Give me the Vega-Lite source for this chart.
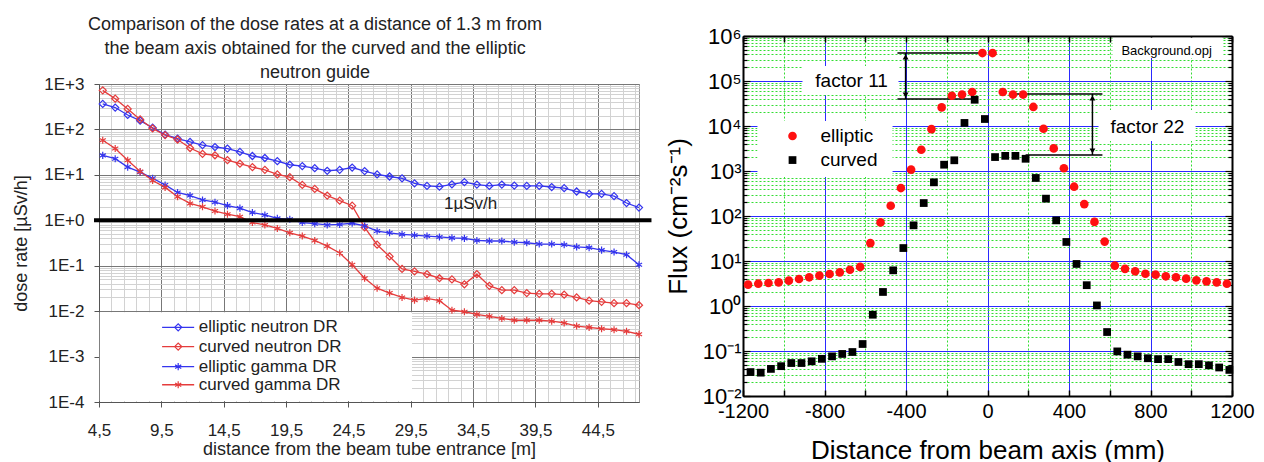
{
  "$schema": "https://vega.github.io/schema/vega-lite/v6.json",
  "background": "white",
  "padding": {"left": 12, "top": 16, "right": 2, "bottom": 0},
  "spacing": 11,
  "config": {"font": "Liberation Sans", "view": {"stroke": null}},
  "datasets": {
    "left": [
      {"s":"en","d":4.8,"v":365},{"s":"en","d":5.8,"v":303},{"s":"en","d":6.8,"v":208},{"s":"en","d":7.8,"v":156},{"s":"en","d":8.8,"v":109},{"s":"en","d":9.8,"v":77},{"s":"en","d":10.8,"v":63},{"s":"en","d":11.8,"v":53},{"s":"en","d":12.8,"v":45},{"s":"en","d":13.8,"v":41},{"s":"en","d":14.8,"v":38},{"s":"en","d":15.8,"v":32},{"s":"en","d":16.8,"v":26},{"s":"en","d":17.8,"v":23.5},{"s":"en","d":18.8,"v":20},{"s":"en","d":19.8,"v":16.7},{"s":"en","d":20.8,"v":15.6},{"s":"en","d":21.8,"v":14},{"s":"en","d":22.8,"v":12.3},{"s":"en","d":23.8,"v":12.9},{"s":"en","d":24.8,"v":14.5},{"s":"en","d":25.8,"v":12.1},{"s":"en","d":26.8,"v":10.2},{"s":"en","d":27.8,"v":9.2},{"s":"en","d":28.8,"v":8.4},{"s":"en","d":29.8,"v":6.5},{"s":"en","d":30.8,"v":5.7},{"s":"en","d":31.8,"v":5.5},{"s":"en","d":32.8,"v":6.2},{"s":"en","d":33.8,"v":6.9},{"s":"en","d":34.8,"v":6.1},{"s":"en","d":35.8,"v":5.7},{"s":"en","d":36.8,"v":6.1},{"s":"en","d":37.8,"v":5.8},{"s":"en","d":38.8,"v":5.7},{"s":"en","d":39.8,"v":5.7},{"s":"en","d":40.8,"v":5.4},{"s":"en","d":41.8,"v":5.1},{"s":"en","d":42.8,"v":4.3},{"s":"en","d":43.8,"v":3.8},{"s":"en","d":44.8,"v":3.8},{"s":"en","d":45.8,"v":3.4},{"s":"en","d":46.8,"v":2.4},{"s":"en","d":47.8,"v":1.9},
      {"s":"cn","d":4.8,"v":724},{"s":"cn","d":5.8,"v":474},{"s":"cn","d":6.8,"v":283},{"s":"cn","d":7.8,"v":166},{"s":"cn","d":8.8,"v":105},{"s":"cn","d":9.8,"v":75},{"s":"cn","d":10.8,"v":60},{"s":"cn","d":11.8,"v":39},{"s":"cn","d":12.8,"v":29},{"s":"cn","d":13.8,"v":27},{"s":"cn","d":14.8,"v":21},{"s":"cn","d":15.8,"v":17.6},{"s":"cn","d":16.8,"v":14.8},{"s":"cn","d":17.8,"v":12.9},{"s":"cn","d":18.8,"v":10.2},{"s":"cn","d":19.8,"v":8.9},{"s":"cn","d":20.8,"v":6.0},{"s":"cn","d":21.8,"v":4.9},{"s":"cn","d":22.8,"v":3.5},{"s":"cn","d":23.8,"v":2.7},{"s":"cn","d":24.8,"v":2.1},{"s":"cn","d":25.8,"v":0.7},{"s":"cn","d":26.8,"v":0.29},{"s":"cn","d":27.8,"v":0.16},{"s":"cn","d":28.8,"v":0.085},{"s":"cn","d":29.8,"v":0.075},{"s":"cn","d":30.8,"v":0.065},{"s":"cn","d":31.8,"v":0.053},{"s":"cn","d":32.8,"v":0.05},{"s":"cn","d":33.8,"v":0.039},{"s":"cn","d":34.8,"v":0.065},{"s":"cn","d":35.8,"v":0.036},{"s":"cn","d":36.8,"v":0.029},{"s":"cn","d":37.8,"v":0.029},{"s":"cn","d":38.8,"v":0.025},{"s":"cn","d":39.8,"v":0.024},{"s":"cn","d":40.8,"v":0.024},{"s":"cn","d":41.8,"v":0.023},{"s":"cn","d":42.8,"v":0.02},{"s":"cn","d":43.8,"v":0.017},{"s":"cn","d":44.8,"v":0.016},{"s":"cn","d":45.8,"v":0.015},{"s":"cn","d":46.8,"v":0.015},{"s":"cn","d":47.8,"v":0.0135},
      {"s":"eg","d":4.8,"v":26.8},{"s":"eg","d":5.8,"v":22.7},{"s":"eg","d":6.8,"v":14.8},{"s":"eg","d":7.8,"v":11.5},{"s":"eg","d":8.8,"v":8.4},{"s":"eg","d":9.8,"v":6.0},{"s":"eg","d":10.8,"v":4.1},{"s":"eg","d":11.8,"v":3.5},{"s":"eg","d":12.8,"v":2.8},{"s":"eg","d":13.8,"v":2.5},{"s":"eg","d":14.8,"v":2.1},{"s":"eg","d":15.8,"v":1.85},{"s":"eg","d":16.8,"v":1.48},{"s":"eg","d":17.8,"v":1.31},{"s":"eg","d":18.8,"v":1.1},{"s":"eg","d":19.8,"v":1.05},{"s":"eg","d":20.8,"v":0.89},{"s":"eg","d":21.8,"v":0.84},{"s":"eg","d":22.8,"v":0.79},{"s":"eg","d":23.8,"v":0.81},{"s":"eg","d":24.8,"v":0.86},{"s":"eg","d":25.8,"v":0.75},{"s":"eg","d":26.8,"v":0.58},{"s":"eg","d":27.8,"v":0.53},{"s":"eg","d":28.8,"v":0.49},{"s":"eg","d":29.8,"v":0.47},{"s":"eg","d":30.8,"v":0.45},{"s":"eg","d":31.8,"v":0.43},{"s":"eg","d":32.8,"v":0.41},{"s":"eg","d":33.8,"v":0.4},{"s":"eg","d":34.8,"v":0.36},{"s":"eg","d":35.8,"v":0.35},{"s":"eg","d":36.8,"v":0.35},{"s":"eg","d":37.8,"v":0.33},{"s":"eg","d":38.8,"v":0.32},{"s":"eg","d":39.8,"v":0.3},{"s":"eg","d":40.8,"v":0.3},{"s":"eg","d":41.8,"v":0.29},{"s":"eg","d":42.8,"v":0.26},{"s":"eg","d":43.8,"v":0.25},{"s":"eg","d":44.8,"v":0.22},{"s":"eg","d":45.8,"v":0.2},{"s":"eg","d":46.8,"v":0.175},{"s":"eg","d":47.8,"v":0.105},
      {"s":"cg","d":4.8,"v":58},{"s":"cg","d":5.8,"v":38},{"s":"cg","d":6.8,"v":21},{"s":"cg","d":7.8,"v":11.8},{"s":"cg","d":8.8,"v":7.5},{"s":"cg","d":9.8,"v":5.3},{"s":"cg","d":10.8,"v":3.3},{"s":"cg","d":11.8,"v":2.35},{"s":"cg","d":12.8,"v":1.98},{"s":"cg","d":13.8,"v":1.6},{"s":"cg","d":14.8,"v":1.36},{"s":"cg","d":15.8,"v":1.2},{"s":"cg","d":16.8,"v":0.89},{"s":"cg","d":17.8,"v":0.79},{"s":"cg","d":18.8,"v":0.66},{"s":"cg","d":19.8,"v":0.53},{"s":"cg","d":20.8,"v":0.45},{"s":"cg","d":21.8,"v":0.36},{"s":"cg","d":22.8,"v":0.27},{"s":"cg","d":23.8,"v":0.19},{"s":"cg","d":24.8,"v":0.105},{"s":"cg","d":25.8,"v":0.053},{"s":"cg","d":26.8,"v":0.032},{"s":"cg","d":27.8,"v":0.025},{"s":"cg","d":28.8,"v":0.02},{"s":"cg","d":29.8,"v":0.0175},{"s":"cg","d":30.8,"v":0.019},{"s":"cg","d":31.8,"v":0.017},{"s":"cg","d":32.8,"v":0.0105},{"s":"cg","d":33.8,"v":0.0097},{"s":"cg","d":34.8,"v":0.0085},{"s":"cg","d":35.8,"v":0.0077},{"s":"cg","d":36.8,"v":0.0069},{"s":"cg","d":37.8,"v":0.0063},{"s":"cg","d":38.8,"v":0.0063},{"s":"cg","d":39.8,"v":0.0063},{"s":"cg","d":40.8,"v":0.006},{"s":"cg","d":41.8,"v":0.0055},{"s":"cg","d":42.8,"v":0.0047},{"s":"cg","d":43.8,"v":0.0044},{"s":"cg","d":44.8,"v":0.0041},{"s":"cg","d":45.8,"v":0.0039},{"s":"cg","d":46.8,"v":0.0036},{"s":"cg","d":47.8,"v":0.0031}
    ],
    "right": [
      {"s":"elliptic","d":-1175,"v":2.98},{"s":"elliptic","d":-1125,"v":3.13},{"s":"elliptic","d":-1075,"v":3.24},{"s":"elliptic","d":-1025,"v":3.36},{"s":"elliptic","d":-975,"v":3.66},{"s":"elliptic","d":-925,"v":3.98},{"s":"elliptic","d":-875,"v":4.34},{"s":"elliptic","d":-825,"v":4.72},{"s":"elliptic","d":-775,"v":5.14},{"s":"elliptic","d":-725,"v":5.6},{"s":"elliptic","d":-675,"v":6.4},{"s":"elliptic","d":-625,"v":7.4},{"s":"elliptic","d":-575,"v":25},{"s":"elliptic","d":-525,"v":72},{"s":"elliptic","d":-475,"v":169},{"s":"elliptic","d":-425,"v":418},{"s":"elliptic","d":-375,"v":1070},{"s":"elliptic","d":-325,"v":2960},{"s":"elliptic","d":-275,"v":8530},{"s":"elliptic","d":-225,"v":25900},{"s":"elliptic","d":-175,"v":47000},{"s":"elliptic","d":-125,"v":50000},{"s":"elliptic","d":-75,"v":57000},{"s":"elliptic","d":-25,"v":418000},{"s":"elliptic","d":25,"v":418000},{"s":"elliptic","d":75,"v":57000},{"s":"elliptic","d":125,"v":50000},{"s":"elliptic","d":175,"v":50000},{"s":"elliptic","d":225,"v":26500},{"s":"elliptic","d":275,"v":8700},{"s":"elliptic","d":325,"v":3180},{"s":"elliptic","d":375,"v":1150},{"s":"elliptic","d":425,"v":448},{"s":"elliptic","d":475,"v":184},{"s":"elliptic","d":525,"v":74},{"s":"elliptic","d":575,"v":27},{"s":"elliptic","d":625,"v":7.9},{"s":"elliptic","d":675,"v":6.7},{"s":"elliptic","d":725,"v":5.9},{"s":"elliptic","d":775,"v":5.2},{"s":"elliptic","d":825,"v":4.97},{"s":"elliptic","d":875,"v":4.57},{"s":"elliptic","d":925,"v":4.34},{"s":"elliptic","d":975,"v":4.05},{"s":"elliptic","d":1025,"v":3.72},{"s":"elliptic","d":1075,"v":3.53},{"s":"elliptic","d":1125,"v":3.36},{"s":"elliptic","d":1175,"v":3.13},
      {"s":"curved","d":-1163,"v":0.034},{"s":"curved","d":-1113,"v":0.033},{"s":"curved","d":-1063,"v":0.04},{"s":"curved","d":-1013,"v":0.046},{"s":"curved","d":-963,"v":0.054},{"s":"curved","d":-913,"v":0.054},{"s":"curved","d":-863,"v":0.059},{"s":"curved","d":-813,"v":0.067},{"s":"curved","d":-763,"v":0.076},{"s":"curved","d":-713,"v":0.086},{"s":"curved","d":-663,"v":0.095},{"s":"curved","d":-613,"v":0.143},{"s":"curved","d":-563,"v":0.64},{"s":"curved","d":-513,"v":2.05},{"s":"curved","d":-463,"v":6.2},{"s":"curved","d":-413,"v":19.4},{"s":"curved","d":-363,"v":62},{"s":"curved","d":-313,"v":194},{"s":"curved","d":-263,"v":560},{"s":"curved","d":-213,"v":1380},{"s":"curved","d":-163,"v":1730},{"s":"curved","d":-113,"v":11700},{"s":"curved","d":-63,"v":38300},{"s":"curved","d":-13,"v":14300},{"s":"curved","d":37,"v":2040},{"s":"curved","d":87,"v":2170},{"s":"curved","d":137,"v":2170},{"s":"curved","d":187,"v":1870},{"s":"curved","d":237,"v":700},{"s":"curved","d":287,"v":243},{"s":"curved","d":337,"v":80},{"s":"curved","d":387,"v":26.5},{"s":"curved","d":437,"v":8.6},{"s":"curved","d":487,"v":2.9},{"s":"curved","d":537,"v":1.03},{"s":"curved","d":587,"v":0.264},{"s":"curved","d":637,"v":0.098},{"s":"curved","d":687,"v":0.083},{"s":"curved","d":737,"v":0.076},{"s":"curved","d":787,"v":0.069},{"s":"curved","d":837,"v":0.066},{"s":"curved","d":887,"v":0.066},{"s":"curved","d":937,"v":0.057},{"s":"curved","d":987,"v":0.051},{"s":"curved","d":1037,"v":0.051},{"s":"curved","d":1087,"v":0.048},{"s":"curved","d":1137,"v":0.043},{"s":"curved","d":1187,"v":0.038}
    ],
    "boxL": [{"d": 4.56, "d2": 29.6, "v": 0.000105, "v2": 0.0095}],
    "ruleL": [{"d": 4.1, "d2": 48.8, "v": 1}],
    "textL": [{"d": 34.3, "v": 2.27, "t": "1µSv/h"}],
    "legL": [
      {"s": "en", "label": "elliptic neutron DR", "d": 9.56, "d2": 12.13, "dm": 10.85, "dt": 12.5, "v": 0.0044},
      {"s": "cn", "label": "curved neutron DR", "d": 9.56, "d2": 12.13, "dm": 10.85, "dt": 12.5, "v": 0.00166},
      {"s": "eg", "label": "elliptic gamma DR", "d": 9.56, "d2": 12.13, "dm": 10.85, "dt": 12.5, "v": 0.0006},
      {"s": "cg", "label": "curved gamma DR", "d": 9.56, "d2": 12.13, "dm": 10.85, "dt": 12.5, "v": 0.00024}
    ],
    "boxR": [
      {"d": -908, "d2": -437, "v": 215000, "v2": 49000},
      {"d": -1129, "d2": -466, "v": 12900, "v2": 740},
      {"d": 613, "d2": 1153, "v": 910000, "v2": 324000},
      {"d": 545, "d2": 1021, "v": 22700, "v2": 4640}
    ],
    "hlineR": [
      {"d": -442, "d2": -34, "v": 418000},
      {"d": -442, "d2": -74, "v": 39800},
      {"d": 137, "d2": 564, "v": 51600},
      {"d": 187, "d2": 564, "v": 2270}
    ],
    "arrowR": [
      {"d": -402, "v": 418000, "v2": 39800},
      {"d": 515, "v": 51600, "v2": 2270}
    ],
    "headUp": [{"d": -402, "v": 341000}, {"d": 515, "v": 41900}],
    "headDown": [{"d": -402, "v": 48800}, {"d": 515, "v": 2780}],
    "factorR": [
      {"d": -667, "v": 100000, "t": "factor 11"},
      {"d": 785, "v": 9500, "t": "factor 22"}
    ],
    "bgR": [{"d": 879, "v": 466000, "t": "Background.opj"}],
    "legR": [
      {"s": "elliptic", "d": -957, "dt": -820, "v": 6000},
      {"s": "curved", "d": -957, "dt": -820, "v": 1750}
    ]
  },
  "hconcat": [
    {"vconcat": [
    {
      "width": 540,
      "height": 42,
      "title": {
        "text": ["Comparison of the dose rates at a distance of 1.3 m from", "the beam axis obtained for the curved and the elliptic", "neutron guide"],
        "fontSize": 18, "fontWeight": "normal", "color": "#222", "lineHeight": 24,
        "anchor": "middle", "frame": "group", "dx": -54, "offset": -46
      },
      "data": {"values": [{}]},
      "mark": {"type": "text", "text": ""},
      "encoding": {}
    },
    {
      "width": 540,
      "height": 318,
      "view": {"stroke": "#999", "strokeWidth": 1},
      "encoding": {
        "x": {
          "field": "d", "type": "quantitative",
          "scale": {"domain": [4.5, 47.8], "nice": false, "zero": false},
          "axis": {
            "title": "distance from the beam tube entrance [m]",
            "titleFontSize": 18, "titleFontWeight": "normal", "titleColor": "#222", "titlePadding": 2,
            "values": [4.5,5.5,6.5,7.5,8.5,9.5,10.5,11.5,12.5,13.5,14.5,15.5,16.5,17.5,18.5,19.5,20.5,21.5,22.5,23.5,24.5,25.5,26.5,27.5,28.5,29.5,30.5,31.5,32.5,33.5,34.5,35.5,36.5,37.5,38.5,39.5,40.5,41.5,42.5,43.5,44.5,45.5,46.5,47.5],
            "labelExpr": "(datum.value - 4.5) % 5 == 0 ? replace(format(datum.value, '.1f'), '.', ',') : ''",
            "labelFontSize": 17, "labelColor": "#222", "labelPadding": 15, "labelOverlap": false, "labelFlush": false,
            "tickSize": 5, "tickColor": {"condition": {"test": "(datum.value - 4.5) % 5 == 0", "value": "#555"}, "value": "rgba(0,0,0,0)"},
            "domainColor": "#555",
            "grid": true,
            "gridColor": {"condition": {"test": "(datum.value - 4.5) % 5 == 0", "value": "#777"}, "value": "#d2d2d2"},
            "gridWidth": 1
          }
        },
        "y": {
          "field": "v", "type": "quantitative",
          "scale": {"type": "log", "domain": [0.0001, 1000], "nice": false},
          "axis": {
            "title": "dose rate [µSv/h]",
            "titleFontSize": 18, "titleFontWeight": "normal", "titleColor": "#222", "titlePadding": 13,
            "values": [0.0001,0.0002,0.0003,0.0004,0.0005,0.0006,0.0007,0.0008,0.0009,0.001,0.002,0.003,0.004,0.005,0.006,0.007,0.008,0.009,0.01,0.02,0.03,0.04,0.05,0.06,0.07,0.08,0.09,0.1,0.2,0.3,0.4,0.5,0.6,0.7,0.8,0.9,1,2,3,4,5,6,7,8,9,10,20,30,40,50,60,70,80,90,100,200,300,400,500,600,700,800,900,1000],
            "labelExpr": "abs(log(datum.value)/LN10 - round(log(datum.value)/LN10)) < 0.001 ? '1E' + (round(log(datum.value)/LN10) < 0 ? '-' : '+') + abs(round(log(datum.value)/LN10)) : ''",
            "labelFontSize": 17, "labelColor": "#222", "labelPadding": 10, "labelOverlap": false, "labelFlush": false,
            "tickSize": 5, "tickColor": {"condition": {"test": "abs(log(datum.value)/LN10 - round(log(datum.value)/LN10)) < 0.001", "value": "#555"}, "value": "rgba(0,0,0,0)"},
            "domainColor": "#555",
            "grid": true,
            "gridColor": {"condition": {"test": "abs(log(datum.value)/LN10 - round(log(datum.value)/LN10)) < 0.001", "value": "#777"}, "value": "#d2d2d2"},
            "gridWidth": 1
          }
        }
      },
      "layer": [
        {
          "data": {"name": "boxL"},
          "mark": {"type": "rect", "fill": "white"},
          "encoding": {"x2": {"field": "d2"}, "y2": {"field": "v2"}}
        },
        {
          "data": {"name": "left"},
          "mark": {"type": "line", "strokeWidth": 1.3},
          "encoding": {
            "color": {"field": "s", "type": "nominal", "scale": {"domain": ["en", "cn", "eg", "cg"], "range": ["#3535ee", "#e53c3c", "#3535ee", "#e53c3c"]}, "legend": null}
          }
        },
        {
          "data": {"name": "left"},
          "mark": {"type": "point", "filled": false, "strokeWidth": 1.2, "size": 50, "opacity": 1},
          "encoding": {
            "color": {"field": "s", "type": "nominal", "legend": null},
            "shape": {"field": "s", "type": "nominal", "scale": {"domain": ["en", "cn", "eg", "cg"], "range": ["diamond", "diamond", "M0,-1L0,1M-0.87,-0.5L0.87,0.5M-0.87,0.5L0.87,-0.5", "M0,-1L0,1M-0.87,-0.5L0.87,0.5M-0.87,0.5L0.87,-0.5"]}, "legend": null}
          }
        },
        {
          "data": {"name": "ruleL"},
          "mark": {"type": "rule", "strokeWidth": 4, "color": "black"},
          "encoding": {"x2": {"field": "d2"}}
        },
        {
          "data": {"name": "textL"},
          "mark": {"type": "text", "fontSize": 17, "color": "#222", "align": "center", "baseline": "middle"},
          "encoding": {"text": {"field": "t"}}
        },
        {
          "data": {"name": "legL"},
          "mark": {"type": "rule", "strokeWidth": 1.3},
          "encoding": {
            "x2": {"field": "d2"},
            "color": {"field": "s", "type": "nominal", "legend": null}
          }
        },
        {
          "data": {"name": "legL"},
          "mark": {"type": "point", "filled": false, "strokeWidth": 1.2, "size": 50, "opacity": 1},
          "encoding": {
            "x": {"field": "dm", "type": "quantitative"},
            "color": {"field": "s", "type": "nominal", "legend": null},
            "shape": {"field": "s", "type": "nominal", "legend": null}
          }
        },
        {
          "data": {"name": "legL"},
          "mark": {"type": "text", "fontSize": 17, "color": "#222", "align": "left", "baseline": "middle"},
          "encoding": {"x": {"field": "dt", "type": "quantitative"}, "text": {"field": "label"}}
        }
      ]
    }
    ], "spacing": -8},
    {
      "width": 489,
      "height": 360,
      "resolve": {"axis": {"x": "independent", "y": "independent"}},
      "layer": [
        {
          "encoding": {
            "x": {
              "field": "d", "type": "quantitative",
              "scale": {"domain": [-1200, 1200], "nice": false, "zero": false},
              "axis": {
                "orient": "bottom",
                "title": "Distance from beam axis (mm)", "titleFontSize": 26, "titleFontWeight": "normal", "titleColor": "black", "titlePadding": 16,
                "values": [-1200,-1000,-800,-600,-400,-200,0,200,400,600,800,1000,1200],
                "labelExpr": "datum.value % 400 == 0 ? '' + datum.value : ''",
                "labelFontSize": 20, "labelColor": "black", "labelPadding": 11, "labelOverlap": false, "labelFlush": false,
                "tickSize": -6, "tickColor": "black", "tickWidth": 1.5,
                "domainColor": "black", "domainWidth": 2,
                "grid": true,
                "gridColor": {"condition": {"test": "datum.value % 400 == 0", "value": "#2a2aff"}, "value": "#33dd33"},
                "gridDash": {"condition": {"test": "datum.value % 400 == 0", "value": []}, "value": [2, 2]},
                "gridWidth": 1
              }
            },
            "y": {
              "field": "v", "type": "quantitative",
              "scale": {"type": "log", "domain": [0.01, 1000000], "nice": false},
              "axis": {
                "orient": "left",
                "title": "Flux (cm⁻²s⁻¹)", "titleFontSize": 26, "titleFontWeight": "normal", "titleColor": "black", "titlePadding": 11,
                "values": [0.01,0.02,0.03,0.04,0.05,0.06,0.07,0.08,0.09,0.1,0.2,0.3,0.4,0.5,0.6,0.7,0.8,0.9,1,2,3,4,5,6,7,8,9,10,20,30,40,50,60,70,80,90,100,200,300,400,500,600,700,800,900,1000,2000,3000,4000,5000,6000,7000,8000,9000,10000,20000,30000,40000,50000,60000,70000,80000,90000,100000,200000,300000,400000,500000,600000,700000,800000,900000,1000000],
                "labelExpr": "abs(log(datum.value)/LN10 - round(log(datum.value)/LN10)) < 0.001 ? '10' + (round(log(datum.value)/LN10) < 0 ? '⁻' : '') + ['⁰','¹','²','³','⁴','⁵','⁶'][abs(round(log(datum.value)/LN10))] : ''",
                "labelFontSize": 22, "labelColor": "black", "labelPadding": 9, "labelOverlap": false, "labelFlush": false,
                "tickSize": {"condition": {"test": "abs(log(datum.value)/LN10 - round(log(datum.value)/LN10)) < 0.001", "value": -7}, "value": -4},
                "tickColor": "black", "tickWidth": 1.2,
                "domainColor": "black", "domainWidth": 2,
                "grid": true,
                "gridColor": {"condition": {"test": "abs(log(datum.value)/LN10 - round(log(datum.value)/LN10)) < 0.001", "value": "#2a2aff"}, "value": "#33dd33"},
                "gridDash": {"condition": {"test": "abs(log(datum.value)/LN10 - round(log(datum.value)/LN10)) < 0.001", "value": []}, "value": [2, 2]},
                "gridWidth": 1
              }
            }
          },
          "layer": [
            {
              "data": {"name": "boxR"},
              "mark": {"type": "rect", "fill": "white"},
              "encoding": {"x2": {"field": "d2"}, "y2": {"field": "v2"}}
            },
            {
              "data": {"name": "hlineR"},
              "mark": {"type": "rule", "strokeWidth": 1.5, "color": "black"},
              "encoding": {"x2": {"field": "d2"}}
            },
            {
              "data": {"name": "arrowR"},
              "mark": {"type": "rule", "strokeWidth": 1.5, "color": "black"},
              "encoding": {"y2": {"field": "v2"}}
            },
            {
              "data": {"name": "headUp"},
              "mark": {"type": "point", "filled": true, "size": 35, "color": "black", "opacity": 1, "shape": "triangle-up"},
              "encoding": {}
            },
            {
              "data": {"name": "headDown"},
              "mark": {"type": "point", "filled": true, "size": 35, "color": "black", "opacity": 1, "shape": "triangle-down"},
              "encoding": {}
            },
            {
              "data": {"name": "right"},
              "transform": [{"filter": "datum.s == 'elliptic'"}],
              "mark": {"type": "point", "filled": true, "opacity": 1, "shape": "circle", "size": 75, "color": "#ff1010"},
              "encoding": {}
            },
            {
              "data": {"name": "right"},
              "transform": [{"filter": "datum.s == 'curved'"}],
              "mark": {"type": "point", "filled": true, "opacity": 1, "shape": "square", "size": 60, "color": "#000000"},
              "encoding": {}
            },
            {
              "data": {"name": "factorR"},
              "mark": {"type": "text", "fontSize": 19, "color": "black", "align": "center", "baseline": "middle"},
              "encoding": {"text": {"field": "t"}}
            },
            {
              "data": {"name": "bgR"},
              "mark": {"type": "text", "fontSize": 13, "color": "black", "align": "center", "baseline": "middle"},
              "encoding": {"text": {"field": "t"}}
            },
            {
              "data": {"name": "legR"},
              "transform": [{"filter": "datum.s == 'elliptic'"}],
              "mark": {"type": "point", "filled": true, "opacity": 1, "shape": "circle", "size": 75, "color": "#ff1010"},
              "encoding": {}
            },
            {
              "data": {"name": "legR"},
              "transform": [{"filter": "datum.s == 'curved'"}],
              "mark": {"type": "point", "filled": true, "opacity": 1, "shape": "square", "size": 60, "color": "#000000"},
              "encoding": {}
            },
            {
              "data": {"name": "legR"},
              "mark": {"type": "text", "fontSize": 19, "color": "black", "align": "left", "baseline": "middle"},
              "encoding": {"x": {"field": "dt", "type": "quantitative"}, "text": {"field": "s"}}
            }
          ]
        },
        {
          "data": {"name": "right"},
          "mark": {"type": "point", "opacity": 0},
          "encoding": {
            "x": {
              "field": "d", "type": "quantitative",
              "scale": {"domain": [-1200, 1200], "nice": false, "zero": false},
              "axis": {
                "orient": "top", "title": null, "labels": false, "grid": false,
                "values": [-1200,-1000,-800,-600,-400,-200,0,200,400,600,800,1000,1200],
                "tickSize": -6, "tickColor": "black", "tickWidth": 1.5,
                "domainColor": "black", "domainWidth": 2
              }
            },
            "y": {
              "field": "v", "type": "quantitative",
              "scale": {"type": "log", "domain": [0.01, 1000000], "nice": false},
              "axis": {
                "orient": "right", "title": null, "labels": false, "grid": false,
                "values": [0.01,0.02,0.03,0.04,0.05,0.06,0.07,0.08,0.09,0.1,0.2,0.3,0.4,0.5,0.6,0.7,0.8,0.9,1,2,3,4,5,6,7,8,9,10,20,30,40,50,60,70,80,90,100,200,300,400,500,600,700,800,900,1000,2000,3000,4000,5000,6000,7000,8000,9000,10000,20000,30000,40000,50000,60000,70000,80000,90000,100000,200000,300000,400000,500000,600000,700000,800000,900000,1000000],
                "tickSize": {"condition": {"test": "abs(log(datum.value)/LN10 - round(log(datum.value)/LN10)) < 0.001", "value": -7}, "value": -4},
                "tickColor": "black", "tickWidth": 1.2,
                "domainColor": "black", "domainWidth": 2
              }
            }
          }
        }
      ]
    }
  ]
}
